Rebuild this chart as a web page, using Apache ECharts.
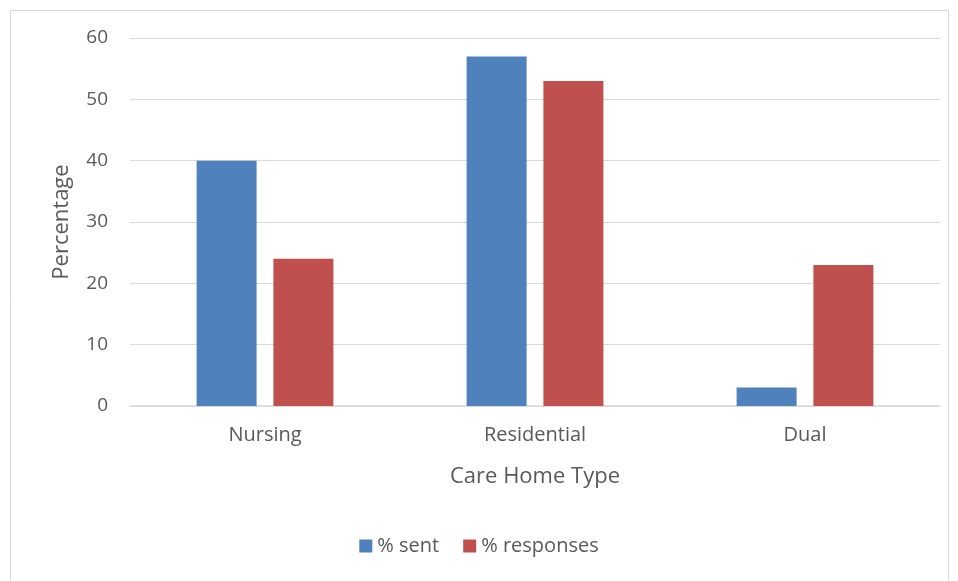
<!DOCTYPE html>
<html>
<head>
<meta charset="utf-8">
<script src="https://cdn.jsdelivr.net/npm/echarts@6/dist/echarts.min.js"></script>
<style>
  html, body { margin: 0; padding: 0; background: #fff; }
  #chart { width: 958px; height: 581px; }
</style>
</head>
<body>
<div id="chart"></div>
<script>
const categories = ['Nursing', 'Residential', 'Dual'];
const sentValues = [40, 57, 3];
const responseValues = [24, 53, 23];
const seriesNames = ['% sent', '% responses'];

const font = '"Open Sans", "Noto Sans", sans-serif';
const textColor = '#595959';

let chart = echarts.init(document.getElementById('chart'));

chart.setOption({
  animation: false,
  textStyle: { fontFamily: font },
  graphic: [{
    type: 'rect',
    shape: { x: 10.5, y: 10.5, width: 938, height: 600 },
    style: { fill: 'none', stroke: '#d9d9d9', lineWidth: 1 },
    silent: true
  }],
  grid: { left: 130, right: 18, top: 38, bottom: 175 },
  legend: {
    data: seriesNames,
    bottom: 20,
    left: 'center',
    itemWidth: 13,
    itemHeight: 13,
    itemGap: 24,
    icon: 'rect',
    textStyle: { color: textColor, fontSize: 20, fontFamily: font }
  },
  xAxis: {
    type: 'category',
    data: categories,
    name: 'Care Home Type',
    nameLocation: 'middle',
    nameGap: 60,
    nameTextStyle: { color: textColor, fontSize: 22, fontFamily: font },
    axisLine: { lineStyle: { color: '#d9d9d9', width: 1.5 } },
    axisTick: { show: false },
    axisLabel: { color: textColor, fontSize: 20, margin: 19, fontFamily: font }
  },
  yAxis: {
    type: 'value',
    min: 0,
    max: 60,
    interval: 10,
    name: 'Percentage',
    nameLocation: 'middle',
    nameGap: 57,
    nameTextStyle: { color: textColor, fontSize: 22, fontFamily: font },
    axisLine: { show: false },
    axisTick: { show: false },
    splitLine: { lineStyle: { color: '#d9d9d9', width: 1 } },
    axisLabel: { color: textColor, fontSize: 19, margin: 22, fontFamily: font }
  },
  series: [
    {
      name: seriesNames[0],
      type: 'bar',
      data: sentValues,
      barWidth: 60,
      barGap: '28%',
      itemStyle: { color: '#4F81BD' }
    },
    {
      name: seriesNames[1],
      type: 'bar',
      data: responseValues,
      barWidth: 60,
      itemStyle: { color: '#C0504D' }
    }
  ]
});
</script>
</body>
</html>
